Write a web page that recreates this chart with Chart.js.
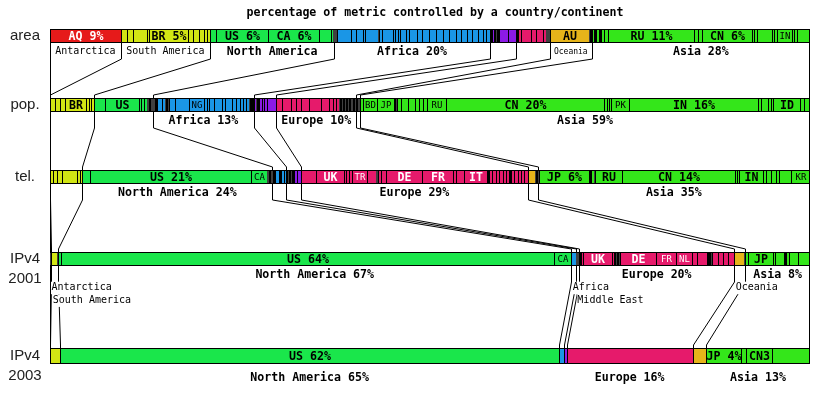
<!DOCTYPE html>
<html>
<head>
<meta charset="utf-8">
<script src="https://cdn.jsdelivr.net/npm/chart.js@4.4.1/dist/chart.umd.min.js"></script>
<style>
  html, body { margin: 0; padding: 0; background: #fff; }
</style>
</head>
<body>
<canvas id="chart" width="818" height="393"></canvas>
<script>
// --- data (percent of each metric, per continent, in bar order) ---
const chartTitle = 'percentage of metric controlled by a country/continent';
const continentNames = ['Antarctica', 'South America', 'North America', 'Africa', 'Middle East', 'Europe', 'Oceania', 'Asia'];
const rowNames = [['area'], ['pop.'], ['tel.'], ['IPv4', '2001'], ['IPv4', '2003']];

const areaShares = [
  [9.3],
  [0.79, 0.79, 1.84, 0.34, 5.09, 0.70, 0.71, 0.70, 0.43, 0.39],
  [0.75, 6.9, 6.71, 1.49, 0.26, 0.19],
  [0.15, 0.15, 0.14, 1.76, 0.66, 0.88, 0.31, 1.67, 0.22, 0.35, 1.40, 0.31, 0.35, 0.35, 0.75, 0.44, 0.96, 0.70, 0.96, 0.88, 0.88, 0.88, 0.88, 0.70, 0.70, 0.70, 0.79, 0.61, 0.44, 0.53],
  [0.22, 0.35, 0.19, 0.19, 0.19, 1.18, 1.18],
  [0.22, 0.35, 1.32, 0.66, 0.88, 0.44, 0.14, 0.14, 0.14, 0.14],
  [5.13, 0.15, 0.16],
  [0.35, 0.22, 0.44, 0.22, 0.44, 0.44, 11.32, 0.53, 0.57, 6.58, 0.31, 0.35, 1.97, 0.31, 0.35, 1.97, 0.31, 0.35, 1.75]
];
const areaCodes = [[0, 0, 'AQ 9%'], [1, 4, 'BR 5%'], [2, 1, 'US 6%'], [2, 2, 'CA 6%'], [6, 0, 'AU'], [7, 6, 'RU 11%'], [7, 9, 'CN 6%'], [7, 15, 'IN']];
const areaRegions = ['Antarctica', 'South America', 'North America', 'Africa 20%', '', '', 'Oceania', 'Asia 28%'];

const popShares = [
  [],
  [0.61, 0.75, 0.66, 2.72, 0.35, 0.31, 0.35],
  [1.54, 4.39, 0.35, 0.39, 0.35, 0.16, 0.16, 0.16, 0.16, 0.15],
  [0.15, 0.15, 0.22, 0.66, 0.35, 0.2, 0.2, 0.21, 0.70, 1.84, 1.97, 0.44, 0.31, 0.57, 1.10, 0.44, 0.88, 0.53, 0.57, 0.31, 0.44, 0.35, 0.22, 0.22, 0.22],
  [0.31, 0.18, 0.18, 0.35, 0.31, 0.44, 1.18],
  [0.79, 1.10, 0.66, 0.66, 1.10, 1.54, 1.10, 0.53, 0.35, 0.44, 0.19, 0.19, 0.19, 0.19, 0.19, 0.19, 0.19, 0.19, 0.19, 0.19, 0.19, 0.19],
  [0.2, 0.15, 0.15],
  [0.31, 1.97, 2.19, 0.2, 0.2, 0.55, 0.9, 0.9, 0.5, 0.5, 0.55, 2.46, 20.9, 0.3, 0.26, 0.3, 2.41, 17.0, 0.3, 1.0, 0.3, 0.3, 3.64, 0.44, 0.8]
];
const popCodes = [[1, 3, 'BR'], [2, 1, 'US'], [3, 10, 'NG'], [7, 1, 'BD'], [7, 2, 'JP'], [7, 11, 'RU'], [7, 12, 'CN 20%'], [7, 16, 'PK'], [7, 17, 'IN 16%'], [7, 22, 'ID']];
const popRegions = ['', '', '', 'Africa 13%', '', 'Europe 10%', '', 'Asia 59%'];

const telShares = [
  [],
  [0.44, 0.44, 0.75, 1.97, 0.31, 0.35],
  [1.01, 21.2, 2.02, 0.19, 0.19, 0.19, 0.18],
  [0.15, 0.15, 0.57, 0.22, 0.44, 0.31],
  [0.22, 0.2, 0.2, 0.2, 0.19, 0.44, 0.53],
  [1.89, 3.73, 0.31, 0.35, 0.44, 1.97, 1.10, 0.15, 0.16, 0.35, 0.66, 4.83, 4.08, 0.31, 1.10, 3.07, 0.22, 0.44, 0.44, 0.44, 0.44, 0.44, 0.44, 0.22, 0.44, 0.44, 0.44, 0.44, 0.44],
  [0.96, 0.18, 0.18],
  [0.22, 6.58, 0.22, 0.35, 0.18, 3.51, 14.9, 0.26, 0.31, 3.07, 0.44, 0.66, 0.66, 0.44, 1.54, 2.5]
];
const telCodes = [[2, 1, 'US 21%'], [2, 2, 'CA'], [5, 1, 'UK'], [5, 5, 'TR'], [5, 11, 'DE'], [5, 12, 'FR'], [5, 15, 'IT'], [7, 1, 'JP 6%'], [7, 5, 'RU'], [7, 6, 'CN 14%'], [7, 9, 'IN'], [7, 15, 'KR']];
const telRegions = ['', '', 'North America 24%', '', '', 'Europe 29%', '', 'Asia 35%'];

const ipv4Shares2001 = [
  [0.17],
  [0.7, 0.1, 0.1],
  [0.44, 64.76, 2.32],
  [0.6],
  [0.15, 0.14, 0.14],
  [0.22, 0.35, 3.73, 0.31, 0.22, 0.19, 0.19, 0.19, 4.69, 2.63, 2.19, 0.66, 1.32, 0.22, 0.22, 0.22, 0.66, 0.66, 0.66, 0.88],
  [1.32, 0.13],
  [0.31, 3.29, 0.31, 1.23, 0.22, 0.44, 1.10, 1.62]
];
const ipv4Codes2001 = [[2, 1, 'US 64%'], [2, 2, 'CA'], [5, 2, 'UK'], [5, 8, 'DE'], [5, 9, 'FR'], [5, 10, 'NL'], [7, 1, 'JP']];
const ipv4Regions2001 = ['Antarctica', 'South America', 'North America 67%', 'Africa', 'Middle East', 'Europe 20%', 'Oceania', 'Asia 8%'];

const ipv4Shares2003 = [[], [1.31], [65.7], [0.66], [0.3], [16.6], [1.75], [4.63, 0.61, 3.41, 5.02]];
const ipv4Codes2003 = [[2, 0, 'US 62%'], [7, 0, 'JP 4%'], [7, 2, 'CN3']];
const ipv4Regions2003 = ['', '', 'North America 65%', '', '', 'Europe 16%', '', 'Asia 13%'];

const rowShares = [areaShares, popShares, telShares, ipv4Shares2001, ipv4Shares2003];
const rowCodes = [areaCodes, popCodes, telCodes, ipv4Codes2001, ipv4Codes2003];
const rowRegions = [areaRegions, popRegions, telRegions, ipv4Regions2001, ipv4Regions2003];

// --- layout / style ---
const continentColors = ['#e61a1a', '#d2e614', '#1ae64b', '#1a96e6', '#8c1ae6', '#e61a6b', '#e6b41a', '#34e61a'];
const rowTrack = [0, 1, 2.035, 3.222, 4.626];   // vertical track of each bar on the y scale
const barHeights = [14, 14, 14, 14, 16];
const labelDrop = [8.5, 8.5, 8.5, 8.5, 13.5];
const MONO = '"DejaVu Sans Mono", monospace';

// build floating bar points for one row
function buildRow(shares, codes, r) {
  const pts = [];
  let pos = 0;
  shares.forEach((list, c) => {
    list.forEach((v, i) => {
      const code = codes.find(k => k[0] === c && k[1] === i);
      pts.push({ x: [pos, pos + v], y: rowTrack[r], cont: c, code: code ? code[2] : '' });
      pos += v;
    });
  });
  return pts;
}

function segWidth(ctx) {
  const xs = ctx.chart.scales.x;
  if (!xs || !ctx.raw) return 10;
  return xs.getPixelForValue(ctx.raw.x[1]) - xs.getPixelForValue(ctx.raw.x[0]);
}

const datasets = rowShares.map((shares, r) => ({
  label: rowNames[r].join(' '),
  data: buildRow(shares, rowCodes[r], r),
  barThickness: barHeights[r],
  grouped: false,
  borderSkipped: false,
  inflateAmount: 0,
  borderColor: '#000',
  backgroundColor: ctx => (segWidth(ctx) < 1.8 ? '#000' : continentColors[ctx.raw ? ctx.raw.cont : 0]),
  borderWidth: ctx => {
    const last = ctx.dataIndex === ctx.dataset.data.length - 1;
    return { top: 1, bottom: 1, left: 1, right: last ? 1 : 0 };
  }
}));

function pickFont(ctx, text, room, fonts) {
  for (const f of fonts) {
    ctx.font = f.font;
    if (ctx.measureText(text).width + f.pad <= room) return f;
  }
  return null;
}

// snap bar edges to whole pixels so the thin separators stay crisp
const pixelSnap = {
  id: 'pixelSnap',
  beforeDatasetsDraw(chart) {
    chart.data.datasets.forEach((ds, r) => {
      chart.getDatasetMeta(r).data.forEach(el => {
        el.x = Math.round(el.x);
        el.base = Math.round(el.base);
        el.y = Math.round(el.y - el.height / 2) + el.height / 2;
      });
    });
  }
};

// connectors, labels, row names and title
const overlay = {
  id: 'overlay',
  afterDatasetsDraw(chart) {
    const ctx = chart.ctx;
    const xs = chart.scales.x;
    const geo = chart.data.datasets.map((ds, r) => {
      const el = chart.getDatasetMeta(r).data[0];
      return { mid: el.y, top: el.y - ds.barThickness / 2, bottom: el.y + ds.barThickness / 2 };
    });
    const bounds = rowShares.map(shares => {
      const b = [0];
      let pos = 0;
      shares.forEach(list => { list.forEach(v => { pos += v; }); b.push(pos); });
      return b;
    });
    const lineX = (v, k, n) => Math.round(xs.getPixelForValue(v)) + (k === n - 1 ? -0.5 : 0.5);

    ctx.save();
    // connector lines between rows
    ctx.strokeStyle = '#000';
    ctx.lineWidth = 1;
    for (let r = 0; r < rowShares.length - 1; r++) {
      const yA = geo[r].bottom, yB = geo[r + 1].top;
      const n = bounds[r].length;
      bounds[r].forEach((v, k) => {
        const xA = lineX(v, k, n);
        const xB = lineX(bounds[r + 1][k], k, n);
        ctx.beginPath();
        ctx.moveTo(xA, yA);
        ctx.lineTo(xA, yA + 16);
        ctx.lineTo(xB, yB - 3);
        ctx.lineTo(xB, yB);
        ctx.stroke();
      });
    }

    // country codes inside the bars: big bold when the segment is wide, small otherwise
    ctx.textBaseline = 'middle';
    ctx.textAlign = 'center';
    const smallFont = [{ font: '9px ' + MONO, pad: 2 }];
    chart.data.datasets.forEach((ds, r) => {
      chart.getDatasetMeta(r).data.forEach((el, i) => {
        const raw = ds.data[i];
        if (!raw.code) return;
        const left = Math.min(el.x, el.base), right = Math.max(el.x, el.base);
        const w = right - left;
        let font = 'bold 11.6px ' + MONO;
        if (w < 20.5) {
          const f = pickFont(ctx, raw.code, w, smallFont);
          if (!f) return;
          font = f.font;
        }
        ctx.save();
        ctx.beginPath();
        ctx.rect(left + 1, el.y - el.height / 2, w - 1, el.height);
        ctx.clip();
        ctx.font = font;
        ctx.fillStyle = (raw.cont === 0 || raw.cont === 5) ? '#fff' : '#000';
        ctx.fillText(raw.code, (left + right) / 2 + 0.5, el.y + 0.5);
        ctx.restore();
      });
    });

    // continent labels below the bars
    const regionFonts = [
      { font: 'bold 11.6px ' + MONO, pad: 6 },
      { font: '10px ' + MONO, pad: 4 },
      { font: '8px ' + MONO, pad: 2 }
    ];
    rowRegions.forEach((names, r) => {
      let level = 0;
      names.forEach((name, c) => {
        if (!name) { level = 0; return; }
        const x0 = xs.getPixelForValue(bounds[r][c]);
        const x1 = xs.getPixelForValue(bounds[r][c + 1]);
        const f = pickFont(ctx, name, x1 - x0, regionFonts);
        ctx.fillStyle = '#000';
        if (f) {
          level = 0;
          ctx.font = f.font;
          ctx.textAlign = 'center';
          ctx.fillText(name, (x0 + x1) / 2, geo[r].bottom + labelDrop[r]);
        } else {
          level++;
          ctx.font = '10px ' + MONO;
          ctx.textAlign = 'left';
          const w = ctx.measureText(name).width;
          const y = geo[r].bottom + 9 + level * 12.7;
          ctx.fillStyle = '#fff';
          ctx.fillRect(x0 + 1, y - 6, w + 2, 12.5);
          ctx.fillStyle = '#000';
          ctx.fillText(name, x0 + 1.5, y);
        }
      });
    });

    // row names
    ctx.font = '15px "Liberation Sans", Arial, sans-serif';
    ctx.fillStyle = '#222';
    ctx.textAlign = 'center';
    rowNames.forEach((lines, r) => {
      lines.forEach((t, j) => ctx.fillText(t, 25, geo[r].mid + j * 19.5));
    });

    // title
    ctx.font = 'bold 11.6px ' + MONO;
    ctx.fillStyle = '#000';
    ctx.fillText(chartTitle, 435, 13);
    ctx.restore();
  }
};

new Chart(document.getElementById('chart'), {
  type: 'bar',
  data: { datasets },
  options: {
    indexAxis: 'y',
    responsive: false,
    animation: false,
    events: [],
    devicePixelRatio: 1,
    layout: { padding: { left: 50, right: 8, top: 0, bottom: 0 } },
    plugins: { legend: { display: false }, tooltip: { enabled: false }, title: { display: false } },
    scales: {
      x: { type: 'linear', min: 0, max: 100, display: false },
      y: { type: 'linear', min: -0.5152, max: 5.156, reverse: true, offset: false, display: false }
    }
  },
  plugins: [pixelSnap, overlay]
});
</script>
</body>
</html>
